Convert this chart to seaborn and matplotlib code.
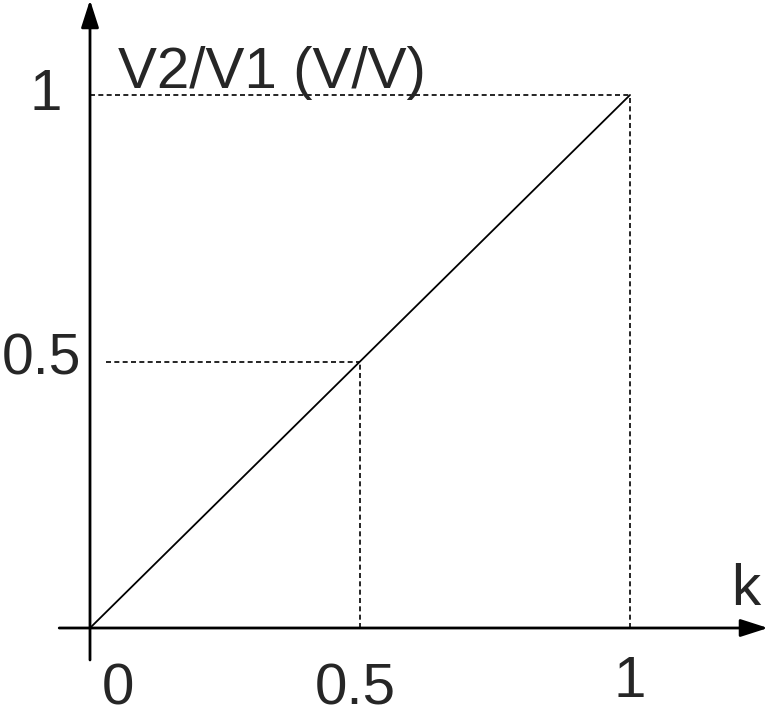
import matplotlib
matplotlib.use("Agg")
import matplotlib.pyplot as plt
import pandas as pd
import seaborn as sns

# transfer curve V2/V1 against k
k_values = [0.0, 0.5, 1.0]
ratio_values = [0.0, 0.5, 1.0]
guide_points = [0.5, 1.0]
x_tick_labels = ["0", "0.5", "1"]
y_tick_labels = ["0.5", "1"]

sns.set_theme(style="white")
plt.rcParams["font.family"] = ["Liberation Sans", "DejaVu Sans"]

fig = plt.figure(figsize=(7.68, 7.2), dpi=100)
ax = fig.add_axes([0, 0, 1, 1])
ax.set_xlim(-90 / 540, 678 / 540)
ax.set_ylim(-92 / 533, 628 / 533)
ax.axis("off")

df = pd.DataFrame({"k": k_values, "ratio": ratio_values})
sns.lineplot(data=df, x="k", y="ratio", color="black", linewidth=1.3, ax=ax)

# dashed guide lines
for g in guide_points:
    x0 = 0.03 if g < 1 else 0.0
    ax.plot([x0, g], [g, g], color="black", linestyle=(0, (3, 2)), linewidth=1.2)
    ax.plot([g, g], [0, g], color="black", linestyle=(0, (3, 2)), linewidth=1.2)

# axes with arrows
arrow = dict(arrowstyle="-|>,head_length=1.4,head_width=0.45", color="black",
             linewidth=2, shrinkA=0, shrinkB=0)
ax.annotate("", xy=(678 / 540, 0), xytext=(-0.057, 0), arrowprops=arrow)
ax.annotate("", xy=(0, 628 / 533), xytext=(0, -0.06), arrowprops=arrow)

fs = 42
ax.text(0.052, -0.116, x_tick_labels[0], fontsize=fs, ha="center", va="center")
ax.text(0.491, -0.116, x_tick_labels[1], fontsize=fs, ha="center", va="center")
ax.text(1.0, -0.101, x_tick_labels[2], fontsize=fs, ha="center", va="center")
ax.text(-0.016, 0.503, y_tick_labels[0], fontsize=41, ha="right", va="center")
ax.text(-0.052, 1.0, y_tick_labels[1], fontsize=fs, ha="right", va="center")
ax.text(0.052, 1.013, "V2/V1 (V/V)", fontsize=fs, ha="left", va="baseline")
ax.text(1.215, 0.071, "k", fontsize=fs, ha="center", va="center")

fig.savefig("out.png", dpi=100, facecolor="white")
